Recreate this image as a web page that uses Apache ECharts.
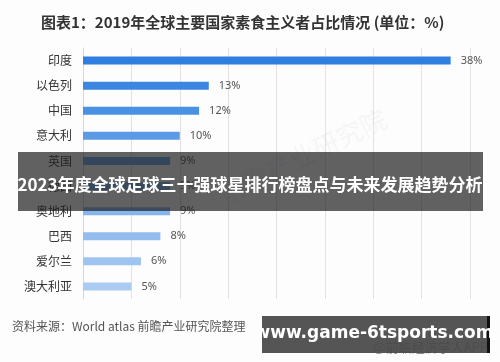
<!DOCTYPE html>
<html><head><meta charset="utf-8">
<script src="https://cdn.jsdelivr.net/npm/echarts@6/dist/echarts.min.js"></script>
<style>html,body{margin:0;padding:0;background:#fdfdfe;}#c{width:500px;height:362px;}</style>
</head><body><div id="c"></div>
<script>
var categories = ['印度','以色列','中国','意大利','英国','德国','奥地利','巴西','爱尔兰','澳大利亚'];
var values = [38,13,12,10,9,9,9,8,6,5];
var palette = ['#2f7ee0','#3b86e0','#4a90e3','#5b9be6','#6aa5e8','#78ade9','#86b5ec','#94bdee','#a0c4f0','#abcbf2'];
var chart = echarts.init(document.getElementById('c'), null, {renderer:'canvas'});
var fontCJK = '"Noto Sans CJK SC", "Microsoft YaHei", sans-serif';
chart.setOption({
  backgroundColor:'#fdfdfe',
  animation:false,
  title:{text:'图表1：2019年全球主要国家素食主义者占比情况 (单位：%)', left:36, top:10,
    textStyle:{fontFamily:fontCJK, fontSize:15, fontWeight:'bold', color:'#333'}},
  grid:{left:83, right:30, top:48, bottom:63},
  xAxis:{type:'value', min:0, max:40, interval:5,
    axisLabel:{show:false}, axisTick:{show:false}, axisLine:{show:false},
    splitLine:{show:true, lineStyle:{color:'#e2e2e4', width:1}}},
  yAxis:{type:'category', data:categories, inverse:true,
    axisTick:{show:false},
    axisLine:{show:true, lineStyle:{color:'#d6d6d8'}},
    axisLabel:{fontFamily:fontCJK, fontSize:12, color:'#333', margin:11}},
  series:[{type:'bar', data:values.map(function(v,i){return {value:v, itemStyle:{color:palette[i]}};}),
    barWidth:8, z:2,
    label:{show:true, position:'right', distance:10, formatter:'{c}%', fontFamily:'"Noto Sans", sans-serif', fontSize:11, color:'#555'}}],
  graphic:[
    {type:'text', left:215, top:105, rotation:0.45, silent:true, z:1,
      style:{text:'前瞻产业研究院', fontFamily:fontCJK, fontSize:26, fill:'rgba(200,200,215,0.14)'}},
    {type:'rect', z:100, shape:{x:18, y:152, width:465, height:59}, style:{fill:'rgba(30,30,32,0.70)'}},
    {type:'text', z:101, x:250, y:185, style:{text:'2023年度全球足球三十强球星排行榜盘点与未来发展趋势分析', align:'center', verticalAlign:'middle',
      fontFamily:fontCJK, fontSize:17, fontWeight:'bold', fill:'#ffffff'}},
    {type:'text', z:100, x:12, y:326, style:{text:'资料来源：World atlas 前瞻产业研究院整理', verticalAlign:'middle',
      fontFamily:fontCJK, fontSize:12, fill:'#555'}},
    {type:'text', z:100, x:488, y:347, style:{text:'@前瞻经济学人APP', align:'right', verticalAlign:'middle',
      fontFamily:fontCJK, fontSize:13, fill:'#8a8a8a'}},
    {type:'rect', z:101, shape:{x:262, y:316, width:225, height:37}, style:{fill:'rgba(70,70,72,0.92)'}},
    {type:'rect', z:101, shape:{x:487, y:316, width:3, height:37}, style:{fill:'#111'}},
    {type:'text', z:102, x:374, y:334, style:{text:'www.game-6tsports.com', align:'center', verticalAlign:'middle',
      fontFamily:'"DejaVu Sans", sans-serif', fontSize:17, fontWeight:'bold', fill:'#ffffff'}}
  ]
});
</script></body></html>
